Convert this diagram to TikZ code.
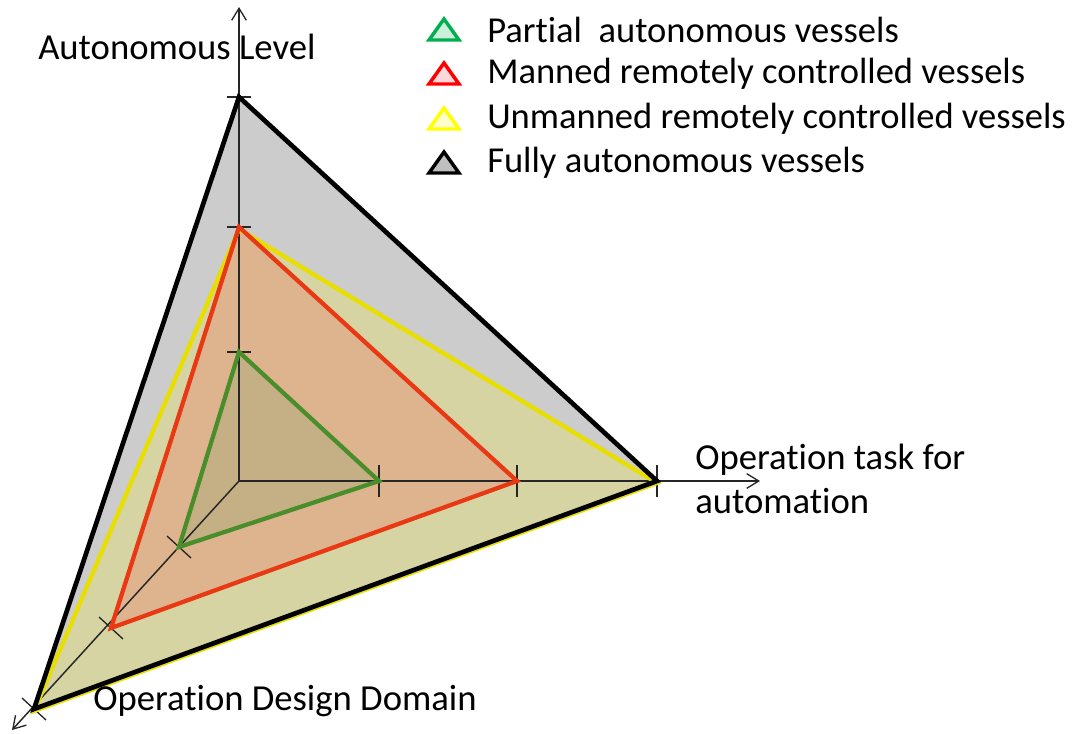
\documentclass[tikz,border=0pt]{standalone}
\usepackage{fontspec}
\setmainfont{Carlito}[Ligatures={NoCommon}]
\usetikzlibrary{arrows.meta}
\definecolor{grayfill}{RGB}{204,204,204}
\definecolor{yelfill}{RGB}{214,212,162}
\definecolor{redfill}{RGB}{222,180,142}
\definecolor{grnfill}{RGB}{196,176,132}
\definecolor{yelline}{RGB}{232,222,0}
\definecolor{redline}{RGB}{232,56,20}
\definecolor{grnline}{RGB}{74,142,44}
\definecolor{lgreen}{RGB}{0,176,80}
\definecolor{lred}{RGB}{255,0,0}
\definecolor{lyellow}{RGB}{255,255,0}
\tikzset{
  axis/.style={draw=black!85, line width=1.1pt, -{Straight Barb[length=9pt,width=11pt,line width=1pt]}},
  tick/.style={draw=black!85, line width=1pt},
  outline/.style={line width=3.2pt, line join=miter},
  lbl/.style={anchor=west, inner sep=0pt, font=\fontsize{27.5}{32}\selectfont},
  leg/.style={anchor=west, inner sep=0pt, font=\fontsize{27.4}{32}\selectfont},
  legtri/.style={line width=2.6pt, line join=miter}
}
\begin{document}
\begin{tikzpicture}[x=0.75pt,y=-0.75pt]
\useasboundingbox (0,0) rectangle (1075,733);
% axis points
\coordinate (O) at (239,481);
\coordinate (ytop) at (239,7);
\coordinate (xend) at (760,481);
\coordinate (zend) at (12,730);
\coordinate (A1) at (239,352);
\coordinate (A2) at (239,227);
\coordinate (A3) at (239,97);
\coordinate (B1) at (379,481);
\coordinate (B2) at (517,481);
\coordinate (B3) at (657,481);
\coordinate (C1) at (179,547);
\coordinate (C2) at (111,628);
\coordinate (C3) at (34,709);
% fills
\fill[grayfill] (A3) -- (B3) -- (C3) -- cycle;
\fill[yelfill] (A2) -- (B3) -- (C3) -- cycle;
\fill[redfill] (A2) -- (B2) -- (C2) -- cycle;
\fill[grnfill] (A1) -- (B1) -- (C1) -- cycle;
% axes
\draw[axis] (O) -- (ytop);
\draw[axis] (O) -- (xend);
\draw[axis] (O) -- (zend);
\foreach \p in {A1,A2,A3}{\draw[tick] ([xshift=-12*0.75pt]\p) -- ([xshift=12*0.75pt]\p);}
\foreach \p in {B1,B2,B3}{\draw[tick] ([yshift=16*0.75pt]\p) -- ([yshift=-16*0.75pt]\p);}
\foreach \p in {C1,C2,C3}{\draw[tick] ([shift={(-12,-11)}]\p) -- ([shift={(12,11)}]\p);}
% outlines
\draw[outline, yelline] ([shift={(0,2)}]A2) -- ([shift={(0,2)}]B3) -- ([shift={(0,2)}]C3) -- cycle;
\draw[outline, redline] (A2) -- (B2) -- (C2) -- cycle;
\draw[outline, grnline] (A1) -- (B1) -- (C1) -- cycle;
\draw[outline, black, line width=3.5pt] (A3) -- (B3) -- (C3) -- cycle;
% axis labels
\node[lbl] (ylab) at (38,47) {Autonomous Level};
\node[lbl] (xlab1) at (695,460) {Operation task for};
\node[lbl] (xlab2) at (695,501) {automation};
\node[lbl] (zlab) at (93,701) {Operation Design Domain};
% legend
\foreach \y/\c/\f/\t [count=\i] in {30/lgreen/lgreen!20/{Partial\ \ autonomous vessels},
  74/lred/lred!15/{Manned remotely controlled vessels},
  119/lyellow/lyellow!20/{Unmanned remotely controlled vessels},
  163/black/black!25/{Fully autonomous vessels}}{
  \coordinate (t\i a) at (429,\y+10);
  \coordinate (t\i b) at (459,\y+10);
  \coordinate (t\i c) at (444,\y-11);
  \draw[legtri, draw=\c, fill=\f] (t\i a) -- (t\i b) -- (t\i c) -- cycle;
  \node[leg] (leg\i) at (487,\y) {\t};
}
\end{tikzpicture}
\end{document}
